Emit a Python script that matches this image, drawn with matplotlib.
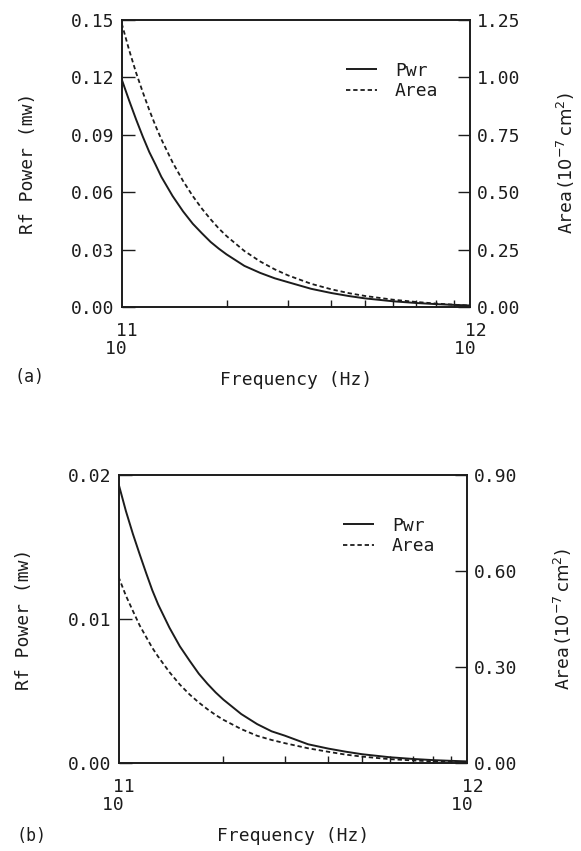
import matplotlib
matplotlib.use("Agg")
import matplotlib.pyplot as plt
from matplotlib.ticker import FixedLocator, NullFormatter

# ---- data ----
freq = [1.00e11, 1.05e11, 1.10e11, 1.15e11, 1.20e11, 1.25e11, 1.30e11,
        1.40e11, 1.50e11, 1.60e11, 1.70e11, 1.80e11, 1.90e11, 2.00e11,
        2.25e11, 2.50e11, 2.75e11, 3.00e11, 3.50e11, 4.00e11, 4.50e11,
        5.00e11, 6.00e11, 7.00e11, 8.00e11, 9.00e11, 1.00e12]

pwr_a = [0.119, 0.108, 0.098, 0.089, 0.081, 0.0745, 0.068,
         0.058, 0.050, 0.0435, 0.0385, 0.034, 0.0305, 0.0275,
         0.0215, 0.0178, 0.0150, 0.0130, 0.0095, 0.0073, 0.0057,
         0.0045, 0.0030, 0.0021, 0.0015, 0.0011, 0.0008]
area_a = [1.235, 1.12, 1.02, 0.935, 0.858, 0.79, 0.73,
          0.63, 0.549, 0.483, 0.428, 0.382, 0.342, 0.309,
          0.244, 0.198, 0.164, 0.138, 0.101, 0.077, 0.060,
          0.048, 0.032, 0.022, 0.015, 0.010, 0.006]

pwr_b = [0.0194, 0.0175, 0.0159, 0.0145, 0.0132, 0.0120, 0.0110,
         0.0094, 0.0081, 0.0071, 0.0062, 0.0055, 0.0049, 0.0044,
         0.0034, 0.0027, 0.0022, 0.0019, 0.0013, 0.0010, 0.00078,
         0.00061, 0.00040, 0.00028, 0.00020, 0.00015, 0.00011]
area_b = [0.582, 0.523, 0.475, 0.430, 0.394, 0.360, 0.332,
          0.284, 0.245, 0.214, 0.189, 0.168, 0.150, 0.135,
          0.106, 0.085, 0.072, 0.062, 0.046, 0.035, 0.026,
          0.020, 0.012, 0.008, 0.005, 0.004, 0.003]

left_ticks_a = [0.00, 0.03, 0.06, 0.09, 0.12, 0.15]
left_labels_a = ["0.00", "0.03", "0.06", "0.09", "0.12", "0.15"]
right_ticks_a = [0.00, 0.25, 0.50, 0.75, 1.00, 1.25]
right_labels_a = ["0.00", "0.25", "0.50", "0.75", "1.00", "1.25"]

left_ticks_b = [0.00, 0.01, 0.02]
left_labels_b = ["0.00", "0.01", "0.02"]
right_ticks_b = [0.00, 0.30, 0.60, 0.90]
right_labels_b = ["0.00", "0.30", "0.60", "0.90"]

x_ticks = [1e11, 1e12]
x_tick_labels = [" 11\n10 ", " 12\n10 "]
minor_x = [2e11, 3e11, 4e11, 5e11, 6e11, 7e11, 8e11, 9e11]

series_labels = ["Pwr", "Area"]
panel_labels = ["(a)", "(b)"]

# ---- style ----
FONT = ["DejaVu Sans Mono", "DejaVu Sans"]
plt.rcParams["font.family"] = FONT
INK = "#1c1c1c"
FS = 13
W, H = 581, 851
fig = plt.figure(figsize=(W / 100, H / 100), dpi=100)

def px_axes(l, r, t, b):
    return [l / W, 1 - b / H, (r - l) / W, (b - t) / H]

def panel(rect, pwr, area, lt, ll, rt, rl, rmax, lmax, leg_anchor, tag, tagpos):
    ax = fig.add_axes(rect)
    ax2 = ax.twinx()
    ax.set_xscale("log")
    l1, = ax.plot(freq, pwr, color=INK, lw=1.4, solid_capstyle="butt",
                  solid_joinstyle="round")
    l2, = ax2.plot(freq, area, color=INK, lw=1.3, dashes=(2.4, 1.6))
    ax.set_xlim(1e11, 1e12)
    ax.set_ylim(0, lmax)
    ax2.set_ylim(0, rmax)

    ax.xaxis.set_major_locator(FixedLocator(x_ticks))
    ax.set_xticklabels(x_tick_labels, fontsize=FS, color=INK, linespacing=0.95)
    ax.xaxis.set_minor_locator(FixedLocator(minor_x))
    ax.xaxis.set_minor_formatter(NullFormatter())
    ax.tick_params(axis="x", which="major", length=0, pad=11)
    ax.tick_params(axis="x", which="minor", direction="in", length=5,
                   width=1.0, color=INK, top=False)

    ax.set_yticks(lt)
    ax.set_yticklabels(ll, fontsize=FS, color=INK)
    ax.tick_params(axis="y", direction="in", length=9, width=1.0, color=INK,
                   pad=5, right=False)
    ax2.set_yticks(rt)
    ax2.set_yticklabels(rl, fontsize=FS, color=INK)
    ax2.tick_params(axis="y", direction="in", length=9, width=1.0, color=INK,
                    pad=5, left=False)

    for a in (ax, ax2):
        for s in a.spines.values():
            s.set_color(INK)
            s.set_linewidth(1.2)

    ax.set_xlabel("Frequency (Hz)", fontsize=FS, color=INK, va="center")
    ax.xaxis.set_label_coords(0.5, -0.255)
    ax.set_ylabel("Rf Power (mw)", fontsize=FS, color=INK, va="center")
    ax.yaxis.set_label_coords(-0.27, 0.5)
    ax2.set_ylabel(r"Area$\,(10^{-7}\,\mathrm{cm}^{2})$", fontsize=FS,
                   color=INK, va="center", rotation=90)
    ax2.yaxis.set_label_coords(1.275, 0.5)

    leg = ax2.legend([l1, l2], series_labels, loc="upper left",
                     bbox_to_anchor=leg_anchor, frameon=False, fontsize=FS,
                     handlelength=1.7, handletextpad=1.0, labelspacing=0.15,
                     borderpad=0, borderaxespad=0)
    for t in leg.get_texts():
        t.set_color(INK)

    fig.text(tagpos[0] / W, 1 - tagpos[1] / H, tag, fontsize=12, color=INK,
             ha="center", va="center", fontfamily=FONT)
    return ax, ax2

panel(px_axes(121.7, 470, 20, 307), pwr_a, area_a,
      left_ticks_a, left_labels_a, right_ticks_a, right_labels_a,
      1.25, 0.15, (0.645, 0.855), panel_labels[0], (30, 377))
panel(px_axes(118.5, 467, 475, 763), pwr_b, area_b,
      left_ticks_b, left_labels_b, right_ticks_b, right_labels_b,
      0.90, 0.02, (0.645, 0.855), panel_labels[1], (31, 836))

fig.savefig("out.png", dpi=100, facecolor="white")
